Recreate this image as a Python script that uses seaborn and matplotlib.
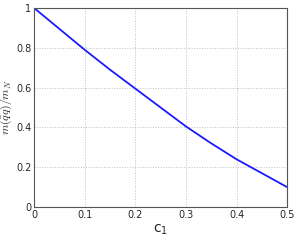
import numpy as np
import pandas as pd
import seaborn as sns
import matplotlib
matplotlib.use("Agg")
import matplotlib.pyplot as plt

c1 = [0.0, 0.05, 0.1, 0.15, 0.2, 0.25, 0.3, 0.35, 0.4, 0.45, 0.5]
ratio = [1.0, 0.895, 0.79, 0.69, 0.595, 0.50, 0.405, 0.32, 0.24, 0.17, 0.10]

df = pd.DataFrame({"c1": c1, "ratio": ratio})

sns.set_style("white")
plt.rcParams['font.family'] = ['DejaVu Sans']
plt.rcParams['mathtext.fontset'] = 'cm'

fig = plt.figure(figsize=(2.96, 2.41), dpi=100)
ax = fig.add_axes([0.115, 0.141, 0.855, 0.826])
sns.lineplot(x="c1", y="ratio", data=df, color="#1a1aff", linewidth=1.3, ax=ax)

ax.set_xlim(0, 0.5)
ax.set_ylim(0, 1)
ax.set_xticks([0, 0.1, 0.2, 0.3, 0.4, 0.5])
ax.set_xticklabels(["0", "0.1", "0.2", "0.3", "0.4", "0.5"])
ax.set_yticks([0, 0.2, 0.4, 0.6, 0.8, 1])
ax.set_yticklabels(["0", "0.2", "0.4", "0.6", "0.8", "1"])
ax.tick_params(direction="in", length=3, labelsize=7, pad=2, color="#555555")
ax.grid(True, linestyle=":", color="#c0c0c0", linewidth=0.7)
for s in ax.spines.values():
    s.set_color("#555555")
    s.set_linewidth(0.8)
ax.set_xlabel(r"$\mathregular{c_1}$", fontsize=10, labelpad=2)
ax.set_ylabel(r"$m(\bar{q}q)/m_N$", fontsize=8.5)
ax.yaxis.set_label_coords(-0.078, 0.5)

fig.savefig("out.png", dpi=100)
